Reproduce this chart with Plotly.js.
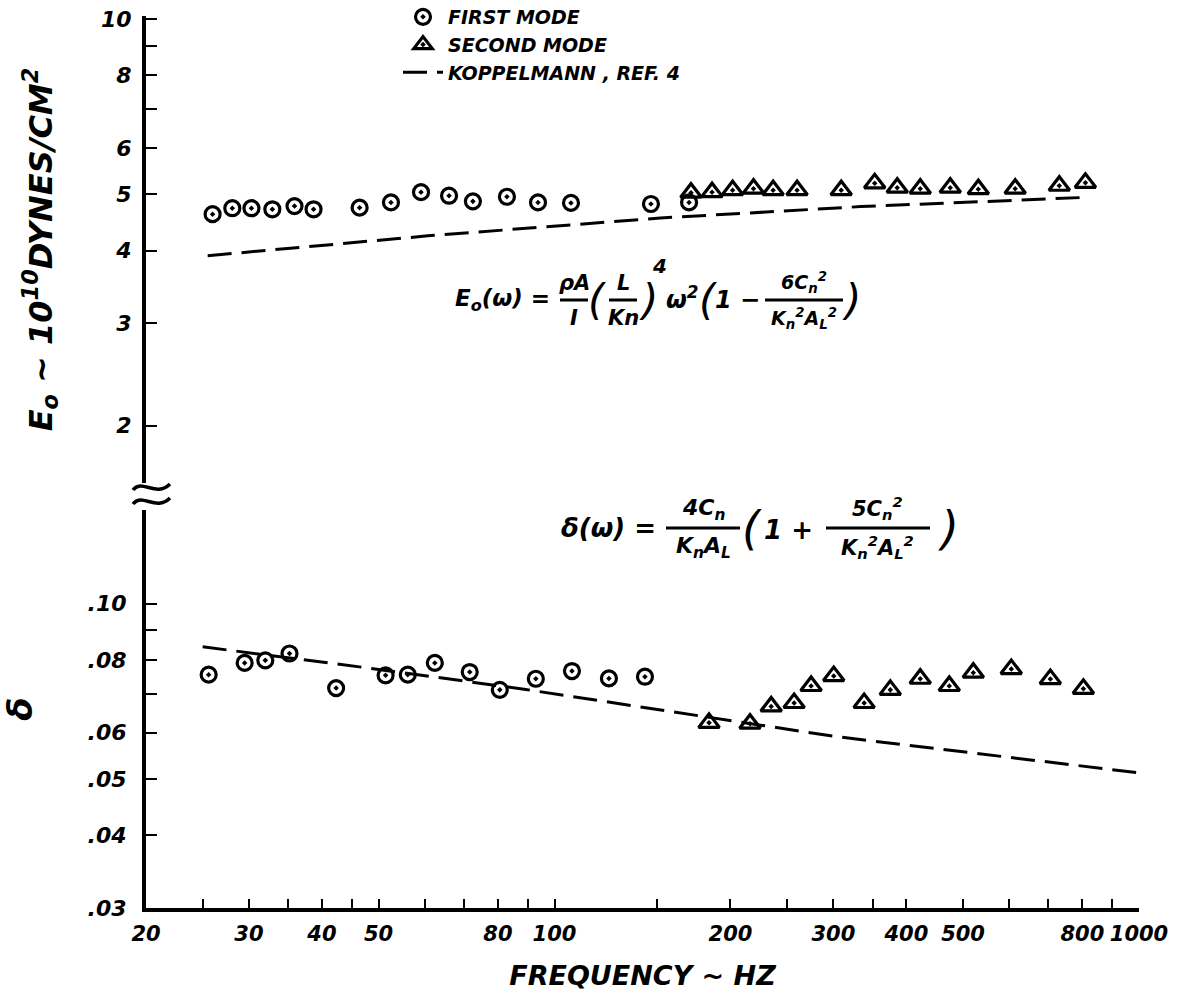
<!DOCTYPE html>
<html>
<head>
<meta charset="utf-8">
<script src="https://cdn.plot.ly/plotly-3.0.1.min.js"></script>
<style>
  html, body { margin: 0; padding: 0; background: #ffffff; }
  #chart { width: 1193px; height: 1004px; }
</style>
</head>
<body>
<div id="chart"></div>
<script>
// ---- Data ----
// Upper panel: E0 (10^10 dynes/cm^2) vs frequency (Hz)
const freqFirstE  = [26.0, 28.1, 30.3, 32.9, 35.9, 38.7, 46.4, 52.5, 59.1, 66.0, 72.5, 82.9, 93.7, 106.7, 146.2, 169.9];
const eFirst      = [4.62, 4.73, 4.73, 4.71, 4.77, 4.71, 4.74, 4.84, 5.04, 4.97, 4.86, 4.95, 4.84, 4.83, 4.81, 4.84];
const freqSecondE = [171.2, 186.0, 201.7, 219.0, 236.6, 260.0, 309.4, 353.0, 385.8, 422.4, 475.4, 531, 614, 730.6, 809.6];
const eSecond     = [5.03, 5.04, 5.08, 5.11, 5.08, 5.08, 5.08, 5.22, 5.13, 5.11, 5.13, 5.10, 5.11, 5.17, 5.23];
const freqKopE    = [25.5, 60.7, 151.8, 334, 821];
const eKop        = [3.92, 4.24, 4.55, 4.76, 4.94];

// Lower panel: delta vs frequency (Hz)
const freqFirstD  = [25.6, 29.5, 32.0, 35.2, 42.3, 51.4, 56.1, 62.4, 71.6, 80.6, 92.9, 107.1, 123.9, 142.8];
const dFirst      = [0.0755, 0.0791, 0.0799, 0.0821, 0.0716, 0.0753, 0.0755, 0.0791, 0.0763, 0.0711, 0.0743, 0.0766, 0.0744, 0.0749];
const freqSecondD = [183.8, 216.0, 234.8, 257.0, 274.8, 300.4, 338.6, 375.4, 422.4, 473.6, 520.6, 604.6, 705.2, 803.2];
const dSecond     = [0.0624, 0.0622, 0.0666, 0.0675, 0.0722, 0.0751, 0.0675, 0.0711, 0.0743, 0.0722, 0.0761, 0.0772, 0.0742, 0.0714];
const freqKopD    = [25.0, 48.6, 89.3, 167.6, 303, 1000];
const dKop        = [0.0843, 0.0774, 0.0712, 0.0647, 0.0591, 0.0512];

// Tick values / labels
const xTickVals  = [20,25,30,35,40,45,50,60,70,80,90,100,150,200,250,300,350,400,500,600,700,800,900,1000];
const xTickText  = ['20','','30','','40','','50','','','80','','100','','200','','300','','400','500','','','800','','1000'];
const eTickVals  = [2,3,4,5,6,7,8,9,10];
const eTickText  = ['2','3','4','5','6','','8','','10'];
const dTickVals  = [0.03,0.04,0.05,0.06,0.07,0.08,0.09,0.10];
const dTickText  = ['.03','.04','.05','.06','','.08','','.10'];

const legendNames = ['FIRST MODE', 'SECOND MODE', 'KOPPELMANN , REF. 4'];

// ---- Layout helpers (pixel -> paper) ----
const ML = 146, MT = 16, PW = 993, PH = 892;
const px = x => (x - ML) / PW;
const py = y => (MT + PH - y) / PH;

const FONT = 'DejaVu Sans, Liberation Sans, sans-serif';
const boldItalic = (size) => ({ family: FONT, size: size, color: '#000', weight: 'bold', style: 'italic' });
const plainItalic = (size) => ({ family: FONT, size: size, color: '#000', weight: 'normal', style: 'italic' });

const circleMarker = { symbol: 'circle-open-dot', size: 15, color: '#000', line: { color: '#000', width: 3.2 } };
const triMarker    = { symbol: 'triangle-up-open-dot', size: 18, color: '#000', line: { color: '#000', width: 3.2 } };
const kopLine      = { color: '#000', width: 3, dash: '24px,10px' };

const traces = [
  { x: freqFirstE, y: eFirst, xaxis: 'x', yaxis: 'y2', mode: 'markers', marker: circleMarker,
    name: legendNames[0], legendgroup: 'first' },
  { x: freqSecondE, y: eSecond, xaxis: 'x', yaxis: 'y2', mode: 'markers', marker: triMarker,
    name: legendNames[1], legendgroup: 'second' },
  { x: freqKopE, y: eKop, xaxis: 'x', yaxis: 'y2', mode: 'lines', line: kopLine,
    name: legendNames[2], legendgroup: 'kop' },
  { x: freqFirstD, y: dFirst, xaxis: 'x', yaxis: 'y', mode: 'markers', marker: circleMarker,
    name: legendNames[0], legendgroup: 'first', showlegend: false },
  { x: freqSecondD, y: dSecond, xaxis: 'x', yaxis: 'y', mode: 'markers', marker: triMarker,
    name: legendNames[1], legendgroup: 'second', showlegend: false },
  { x: freqKopD, y: dKop, xaxis: 'x', yaxis: 'y', mode: 'lines', line: kopLine,
    name: legendNames[2], legendgroup: 'kop', showlegend: false }
];

// Equation annotations
function ann(text, x, y, font) {
  return { text: text, x: px(x), y: py(y), xref: 'paper', yref: 'paper',
    xanchor: 'center', yanchor: 'middle', showarrow: false, font: font, borderpad: 0 };
}
function bar(x0, x1, y) {
  return { type: 'line', xref: 'paper', yref: 'paper', x0: px(x0), x1: px(x1), y0: py(y), y1: py(y),
    line: { color: '#000', width: 3 } };
}

const annotations = [
  // E0 equation
  ann('E<sub>o</sub>(ω) =', 502, 300, boldItalic(23)),
  ann('ρA', 574, 283, boldItalic(21)), ann('I', 574, 318, boldItalic(21)),
  ann('(', 597, 300, plainItalic(42)),
  ann('L', 623, 283, boldItalic(21)), ann('Kn', 623, 318, boldItalic(21)),
  ann(')', 648, 300, plainItalic(42)),
  ann('4', 659, 266, boldItalic(20)),
  ann('ω<sup>2</sup>', 682, 298, boldItalic(24)),
  ann('(', 708, 300, plainItalic(42)),
  ann('1 −', 737, 300, boldItalic(24)),
  ann('6C<sub>n</sub><sup>2</sup>', 804, 282, boldItalic(19)),
  ann('K<sub>n</sub><sup>2</sup>A<sub>L</sub><sup>2</sup>', 804, 318, boldItalic(19)),
  ann(')', 851, 300, plainItalic(42)),
  // delta equation
  ann('δ(ω) =', 608, 528, boldItalic(26)),
  ann('4C<sub>n</sub>', 703, 509, boldItalic(22)),
  ann('K<sub>n</sub>A<sub>L</sub>', 703, 547, boldItalic(22)),
  ann('(', 752, 528, plainItalic(46)),
  ann('1 +', 788, 530, boldItalic(26)),
  ann('5C<sub>n</sub><sup>2</sup>', 877, 508, boldItalic(21)),
  ann('K<sub>n</sub><sup>2</sup>A<sub>L</sub><sup>2</sup>', 877, 547, boldItalic(21)),
  ann(')', 948, 528, plainItalic(46))
];

const shapes = [
  bar(560, 588, 300), bar(609, 637, 300), bar(765, 843, 300),
  bar(666, 740, 528), bar(826, 930, 528),
  // axis break marks
  { type: 'path', xref: 'paper', yref: 'paper',
    path: 'M ' + px(133) + ',' + py(490) + ' C ' + px(142) + ',' + py(478) + ' ' + px(156) + ',' + py(498) + ' ' + px(170) + ',' + py(484),
    line: { color: '#000', width: 3.5 } },
  { type: 'path', xref: 'paper', yref: 'paper',
    path: 'M ' + px(133) + ',' + py(504) + ' C ' + px(142) + ',' + py(492) + ' ' + px(156) + ',' + py(512) + ' ' + px(170) + ',' + py(498),
    line: { color: '#000', width: 3.5 } }
];

const layout = {
  width: 1193, height: 1004,
  margin: { l: ML, r: 1193 - ML - PW, t: MT, b: 1004 - MT - PH, autoexpand: false },
  paper_bgcolor: '#ffffff', plot_bgcolor: '#ffffff',
  font: { family: FONT, color: '#000' },
  showlegend: true,
  legend: { x: px(398), y: py(-2), xanchor: 'left', yanchor: 'top', bgcolor: 'rgba(0,0,0,0)',
    font: boldItalic(19), itemwidth: 40, tracegroupgap: 0 },
  xaxis: {
    type: 'log', range: [Math.log10(20), Math.log10(1000)], anchor: 'y', automargin: false,
    showgrid: false, zeroline: false, showline: true, linecolor: '#000', linewidth: 4,
    ticks: 'inside', ticklen: 9, tickwidth: 2, tickcolor: '#000',
    tickmode: 'array', tickvals: xTickVals, ticktext: xTickText,
    tickfont: boldItalic(21), ticklabelstandoff: 4,
    title: { text: 'FREQUENCY ~ HZ', font: boldItalic(27), standoff: 22 }
  },
  yaxis: {
    type: 'log', range: [Math.log10(0.03), -0.8391], domain: [0, 0.4462], anchor: 'x', automargin: false,
    showgrid: false, zeroline: false, showline: true, linecolor: '#000', linewidth: 4,
    ticks: 'inside', ticklen: 11, tickwidth: 2, tickcolor: '#000',
    tickmode: 'array', tickvals: dTickVals, ticktext: dTickText,
    tickfont: boldItalic(22), ticklabelstandoff: 11,
    title: { text: 'δ', font: boldItalic(34), standoff: 46 }
  },
  yaxis2: {
    type: 'log', range: [0.2027, 1.0052], domain: [0.4765, 1], anchor: 'x', automargin: false,
    showgrid: false, zeroline: false, showline: true, linecolor: '#000', linewidth: 4,
    ticks: 'inside', ticklen: 11, tickwidth: 2, tickcolor: '#000',
    tickmode: 'array', tickvals: eTickVals, ticktext: eTickText,
    tickfont: boldItalic(22), ticklabelstandoff: 6,
    title: { text: 'E<sub>o</sub> ~ 10<sup>10</sup>DYNES/CM<sup>2</sup>', font: boldItalic(32), standoff: 40 }
  },
  annotations: annotations,
  shapes: shapes
};

Plotly.newPlot('chart', traces, layout, { displayModeBar: false, responsive: false });
</script>
</body>
</html>
